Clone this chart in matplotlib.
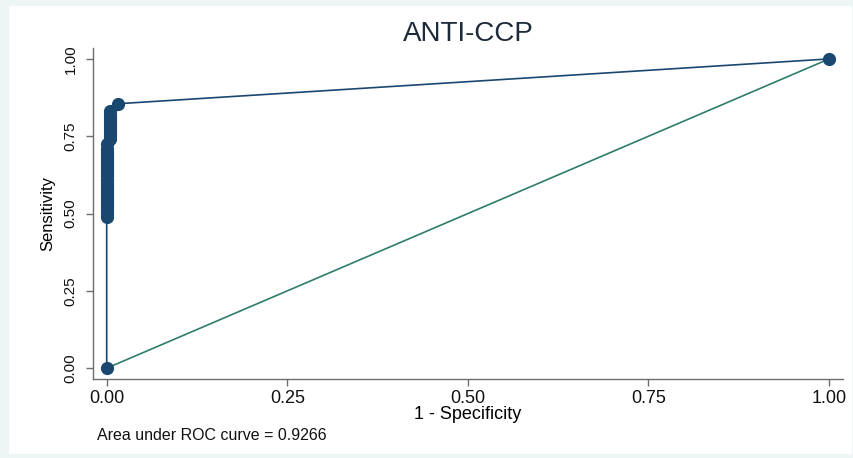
import matplotlib.pyplot as plt
from matplotlib.patches import Rectangle

plt.rcParams['font.family'] = ['Liberation Sans', 'DejaVu Sans']

# ROC points (1 - specificity, sensitivity)
fpr = [0.0,
       0.0, 0.0, 0.0, 0.0, 0.0, 0.0, 0.0, 0.0, 0.0, 0.0, 0.0, 0.0,
       0.0, 0.0, 0.0, 0.0, 0.0, 0.0, 0.0, 0.0, 0.0, 0.0, 0.0, 0.0,
       0.004, 0.004, 0.004, 0.004, 0.004, 0.004, 0.004, 0.004, 0.004, 0.004,
       0.015, 1.0]
sens = [0.0,
        0.49, 0.50, 0.51, 0.52, 0.53, 0.54, 0.55, 0.56, 0.57, 0.58, 0.59, 0.60,
        0.61, 0.62, 0.63, 0.64, 0.65, 0.66, 0.67, 0.68, 0.69, 0.70, 0.71, 0.725,
        0.74, 0.75, 0.76, 0.77, 0.78, 0.79, 0.80, 0.81, 0.82, 0.83,
        0.855, 1.0]
ref_line = [0.0, 1.0]
ticks = [0.0, 0.25, 0.5, 0.75, 1.0]
auc = 0.9266

navy = '#1a476f'
green = '#2e7d6b'
grey = '#6e6e6e'

fig = plt.figure(figsize=(8.54, 4.58), dpi=100, facecolor='#eef5f5')
fig.patches.append(Rectangle((9 / 854, 4 / 458), 1 - 11 / 854, 1 - 10 / 458,
                             transform=fig.transFigure, facecolor='white',
                             edgecolor='none', zorder=-10))
ax = fig.add_axes([0.1089, 0.1725, 0.878, 0.7225])
ax.set_facecolor('white')

ax.plot(ref_line, ref_line, color=green, lw=1.2, zorder=2)
ax.plot(fpr, sens, color=navy, lw=1.2, marker='o', markersize=9.5,
        markeredgewidth=0, zorder=3)

ax.set_xlim(-0.019, 1.019)
ax.set_ylim(-0.035, 1.035)
ax.set_xticks(ticks)
ax.set_yticks(ticks)
ax.set_xticklabels(['%.2f' % t for t in ticks], fontsize=13)
ax.set_yticklabels(['%.2f' % t for t in ticks], fontsize=11, rotation=90, va='center')

for s in ['top', 'right']:
    ax.spines[s].set_visible(False)
for s in ['left', 'bottom']:
    ax.spines[s].set_color(grey)
    ax.spines[s].set_linewidth(1.0)
ax.tick_params(direction='out', length=5, width=1.0, color=grey, labelcolor='#111111', pad=3)
ax.tick_params(axis='y', pad=6)

ax.set_xlabel('1 - Specificity', fontsize=13, labelpad=-1)
ax.set_ylabel('Sensitivity', fontsize=12, labelpad=6)
ax.set_title('ANTI-CCP', fontsize=20, color='#1e2a3a', pad=5)

fig.text(97 / 854, 1 - 436 / 458, 'Area under ROC curve = %.4f' % auc,
         fontsize=11.5, va='center', ha='left', color='#111111')

fig.savefig('out.png', dpi=100, facecolor=fig.get_facecolor())
